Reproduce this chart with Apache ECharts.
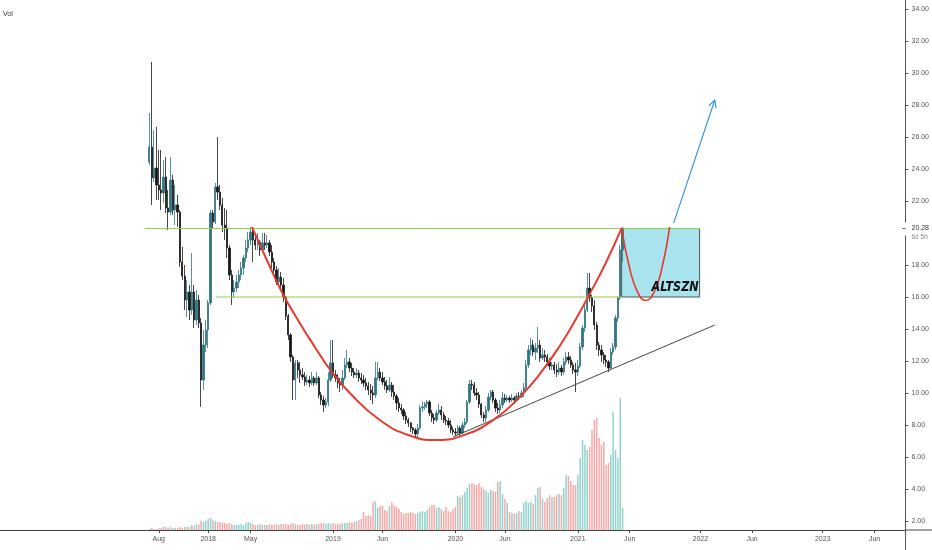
<!DOCTYPE html>
<html><head><meta charset="utf-8">
<script src="https://cdn.jsdelivr.net/npm/echarts@6/dist/echarts.min.js"></script>
<style>html,body{margin:0;padding:0;background:#fff}#c{width:932px;height:550px}</style>
</head><body><div id="c"></div>
<script>
// ---------- data (weekly candles) ----------
const firstWeek = '2017-07-10';
const openP = [24.44,
25.38,23.44,24.06,23.00,22.69,22.50,23.50,21.56,21.31,23.31,
21.44,21.75,21.31,18.19,17.31,15.81,16.31,15.19,16.31,14.56,
15.81,14.38,10.81,13.00,13.94,15.63,21.25,20.69,22.88,22.56,
21.75,20.50,20.31,19.06,17.38,16.31,16.56,16.94,17.38,17.81,
18.44,19.06,19.56,20.06,19.56,19.25,19.44,18.94,19.38,19.25,
19.38,18.81,18.19,17.69,16.94,17.25,16.75,16.00,14.81,13.63,
12.25,10.81,11.88,11.44,11.13,11.00,10.69,10.81,10.63,10.94,
10.63,10.94,9.88,9.56,9.25,9.44,10.81,11.88,11.13,10.94,
10.63,10.50,10.94,11.75,11.94,11.56,11.31,11.13,11.25,10.94,
10.81,10.63,10.44,10.19,10.00,9.88,10.94,11.31,10.94,10.69,
10.44,10.19,10.50,10.06,9.81,9.38,9.06,8.94,8.56,8.31,
8.13,7.81,7.69,7.44,7.81,9.06,9.13,9.31,9.44,8.75,
8.44,8.31,8.75,8.94,8.63,8.31,8.25,8.00,7.69,7.56,
7.50,7.81,7.50,8.00,8.19,9.44,10.56,10.50,10.00,9.88,
9.31,8.63,8.44,8.94,9.75,10.06,9.56,9.06,8.94,9.25,
9.69,9.56,9.69,9.56,9.69,9.56,9.81,9.75,10.00,10.31,
11.75,12.69,13.00,12.56,12.81,13.00,12.19,12.38,12.25,11.94,
11.69,11.75,11.44,11.31,11.56,11.31,11.94,12.25,12.06,11.75,
11.44,11.31,11.69,12.88,14.06,15.19,16.56,15.94,15.44,14.25,
13.00,12.69,12.38,12.06,11.94,11.56,12.56,12.88,14.69,15.94,
18.94];
const closeP = [
25.38,23.44,24.06,23.00,22.69,22.50,23.50,21.56,21.31,23.31,
21.44,21.75,21.31,18.19,17.31,15.81,16.31,15.19,16.31,14.56,
15.81,14.38,10.81,13.00,13.94,15.63,21.25,20.69,22.88,22.56,
21.75,20.50,20.31,19.06,17.38,16.31,16.56,16.94,17.38,17.81,
18.44,19.06,19.56,20.06,19.56,19.25,19.44,18.94,19.38,19.25,
19.38,18.81,18.19,17.69,16.94,17.25,16.75,16.00,14.81,13.63,
12.25,10.81,11.88,11.44,11.13,11.00,10.69,10.81,10.63,10.94,
10.63,10.94,9.88,9.56,9.25,9.44,10.81,11.88,11.13,10.94,
10.63,10.50,10.94,11.75,11.94,11.56,11.31,11.13,11.25,10.94,
10.81,10.63,10.44,10.19,10.00,9.88,10.94,11.31,10.94,10.69,
10.44,10.19,10.50,10.06,9.81,9.38,9.06,8.94,8.56,8.31,
8.13,7.81,7.69,7.44,7.81,9.06,9.13,9.31,9.44,8.75,
8.44,8.31,8.75,8.94,8.63,8.31,8.25,8.00,7.69,7.56,
7.50,7.81,7.50,8.00,8.19,9.44,10.56,10.50,10.00,9.88,
9.31,8.63,8.44,8.94,9.75,10.06,9.56,9.06,8.94,9.25,
9.69,9.56,9.69,9.56,9.69,9.56,9.81,9.75,10.00,10.31,
11.75,12.69,13.00,12.56,12.81,13.00,12.19,12.38,12.25,11.94,
11.69,11.75,11.44,11.31,11.56,11.31,11.94,12.25,12.06,11.75,
11.44,11.31,11.69,12.88,14.06,15.19,16.56,15.94,15.44,14.25,
13.00,12.69,12.38,12.06,11.94,11.56,12.56,12.88,14.69,15.94,
18.94,20.31];
const highP = [
27.50,30.69,26.44,26.63,25.19,25.19,24.56,24.75,22.69,24.75,
23.63,23.00,22.38,21.44,19.13,18.00,17.06,16.75,18.75,16.75,
16.44,16.13,14.69,13.94,14.56,15.81,21.44,21.44,23.13,26.00,
23.00,22.19,21.56,21.44,19.25,17.69,17.06,17.38,17.69,18.19,
18.63,19.56,20.06,20.38,20.31,19.88,20.00,19.56,20.00,20.00,
19.88,19.56,19.25,18.44,17.94,17.81,17.56,17.19,16.06,14.94,
13.75,12.38,12.06,12.06,11.94,11.56,11.31,11.13,11.06,11.31,
11.06,11.31,11.06,10.06,9.81,9.69,11.31,13.31,13.31,11.44,
11.19,10.94,11.44,12.19,12.69,12.19,11.88,11.56,11.56,11.44,
11.25,11.13,10.94,10.69,10.56,10.44,11.94,11.94,11.56,11.31,
11.00,10.81,11.00,10.69,10.50,9.94,9.69,9.31,9.06,8.81,
8.44,8.19,7.88,7.81,8.06,9.25,9.44,9.44,9.56,9.56,
8.94,8.69,8.94,9.31,9.19,8.81,8.56,8.44,8.31,7.88,
7.81,8.00,7.94,8.19,8.44,9.56,10.81,10.81,10.69,10.31,
10.06,9.38,8.81,9.19,10.00,10.19,10.19,9.69,9.38,9.56,
10.06,9.94,9.88,9.81,9.94,9.81,10.00,10.06,10.19,10.63,
12.06,13.00,13.44,13.31,13.13,14.13,13.31,12.81,12.69,12.44,
12.19,11.94,11.94,11.81,11.94,11.75,12.19,12.56,12.56,12.31,
11.94,11.88,12.06,13.13,14.25,15.50,17.50,17.50,16.13,15.81,
14.44,13.19,13.00,12.56,12.38,12.06,12.81,13.13,14.88,16.06,
19.25,20.38];
const lowP = [
24.25,21.75,23.19,22.06,22.06,21.44,21.88,21.25,20.19,21.13,
21.13,20.50,20.38,17.88,17.06,15.19,14.75,14.56,14.88,14.06,
14.25,14.06,9.13,10.19,12.56,12.81,15.50,20.31,20.56,22.06,
21.44,20.06,19.56,18.44,17.06,15.50,15.94,16.31,16.56,17.06,
17.38,18.19,18.81,19.25,18.19,18.94,18.94,18.56,18.81,18.94,
19.06,18.56,17.81,17.38,16.75,16.81,16.44,15.69,14.56,13.31,
11.94,9.56,9.56,10.94,10.63,10.81,10.44,10.50,10.38,10.50,
10.44,10.50,9.69,9.25,8.81,9.06,9.19,10.69,10.94,10.69,
10.31,10.06,10.19,10.81,11.56,11.31,11.06,10.94,10.94,10.69,
10.56,10.38,10.19,9.88,9.56,9.31,9.69,10.81,10.75,10.50,
10.19,10.00,10.06,9.75,9.56,8.94,8.81,8.69,8.31,8.06,
7.88,7.56,7.44,7.19,7.25,7.69,8.81,8.94,9.06,8.56,
8.19,8.06,8.19,8.63,8.31,8.13,8.00,7.81,7.50,7.38,
7.31,7.38,7.25,7.38,7.81,8.06,9.31,10.19,9.81,9.56,
9.06,8.44,8.19,8.19,8.81,9.56,9.38,8.81,8.69,8.75,
9.06,9.38,9.44,9.38,9.44,9.31,9.44,9.56,9.69,9.75,
10.19,11.56,12.38,12.31,12.06,12.50,11.94,12.06,11.94,11.69,
11.44,11.44,11.19,11.00,11.13,11.06,11.13,11.75,11.81,11.56,
11.19,10.06,11.06,11.56,12.69,13.81,15.06,15.69,15.06,13.94,
12.69,12.31,11.94,11.81,11.63,11.31,11.44,12.38,12.69,14.44,
15.81,18.19];
const volume = [
0.1,0.2,0.1,0.1,0.2,0.2,0.3,0.3,0.2,0.3,
0.2,0.2,0.2,0.3,0.2,0.3,0.3,0.3,0.5,0.4,
0.6,0.5,0.9,0.8,0.9,1.1,1.2,1.0,0.9,0.8,
0.8,0.7,0.7,0.6,0.7,0.6,0.5,0.5,0.5,0.6,
0.5,0.7,0.8,0.7,0.6,0.5,0.5,0.6,0.5,0.5,
0.5,0.6,0.5,0.5,0.6,0.5,0.6,0.6,0.6,0.5,
0.6,0.7,0.6,0.5,0.5,0.6,0.5,0.6,0.5,0.6,
0.5,0.6,0.6,0.7,0.7,0.6,0.7,0.6,0.7,0.6,
0.6,0.6,0.7,0.7,0.7,0.8,0.7,0.8,0.9,1.0,
1.1,1.8,1.4,1.5,1.4,2.8,2.9,2.2,2.4,2.4,
2.0,1.9,2.4,2.8,2.4,2.3,2.1,1.8,1.6,1.7,
1.7,1.8,1.7,1.6,1.7,1.8,1.9,1.8,2.0,2.3,
2.5,2.5,2.2,2.3,2.1,1.9,2.3,1.9,1.8,2.1,
2.3,3.4,3.3,3.5,3.8,4.2,4.6,4.7,4.6,4.5,
4.7,4.3,4.1,3.9,3.7,4.0,3.9,3.8,4.8,4.9,
3.6,3.1,2.7,1.8,1.7,1.6,1.7,1.9,1.8,2.7,
2.9,2.7,2.8,2.6,3.5,4.2,4.3,3.1,2.8,3.2,
3.5,3.3,3.3,3.5,3.6,3.5,4.2,5.5,5.4,4.9,
4.5,4.5,5.5,7.2,9.0,8.5,8.0,8.3,10.0,11.0,
11.2,9.2,8.5,8.8,6.5,6.7,7.5,11.8,8.0,7.2,
13.2,2.2];

const xTickDates = ['2017-08-07','2018-01-01','2018-05-07','2019-01-07','2019-06-03','2020-01-06','2020-06-01','2021-01-04','2021-06-07','2022-01-03','2022-06-06','2023-01-02','2023-06-05'];
const xTickLabels = ['Aug','2018','May','2019','Jun','2020','Jun','2021','Jun','2022','Jun','2023','Jun'];
const yTicks = [2,4,6,8,10,12,14,16,18,20,22,24,26,28,30,32,34];
const xMin = '2016-04-22', xMax = '2023-09-05';
const yMin = 1.4375, yMax = 34.5625;
const volMax = 53;

const lastPrice = 20.28;
const lastSub = '6d 5h';
const resistance = 20.28, support = 16.00;
const resistanceSpan = ['2017-06-27', '2022-01-01'];
const supportSpan = ['2018-01-24', '2021-05-14'];
const boxSpan = ['2021-05-14', '2022-01-01'];
const boxText = 'ALTSZN';
const cupPoints = [
 ['2018-05-11',20.38],['2018-06-27',18.19],['2018-08-11',16.19],['2018-09-30',14.38],
 ['2018-11-14',12.88],['2018-12-28',11.50],['2019-02-26',10.00],['2019-05-26',8.31],
 ['2019-08-23',7.34],['2019-11-11',7.06],['2020-02-02',7.38],['2020-05-02',8.38],
 ['2020-07-15',9.75],['2020-09-13',11.19],['2020-11-11',12.94],['2020-12-31',14.69],
 ['2021-02-08',16.19],['2021-03-25',18.00],['2021-05-14',20.31]];
const handlePoints = [['2021-05-14',20.31],['2021-06-07',17.79],['2021-07-01',16.29],['2021-07-25',15.78],
 ['2021-08-18',16.29],['2021-09-11',17.81],['2021-10-04',20.38]];
const arrowPoints = [['2021-10-16',20.63],['2022-02-15',28.31]];
const trendPoints = [['2019-12-29',7.25],['2022-02-15',14.25]];

// ---------- build ----------
const ts = s => { const p = s.split('-').map(Number); return new Date(p[0], p[1]-1, p[2]).getTime(); };
const fw = firstWeek.split('-').map(Number);
const weeks = closeP.map((_, i) => new Date(fw[0], fw[1]-1, fw[2] + 7*i).getTime());
const candleData = weeks.map((t, i) => [t, openP[i], closeP[i], lowP[i], highP[i]]);
const volData = weeks.map((t, i) => ({value: [t, volume[i]],
  itemStyle: {color: closeP[i] >= openP[i] ? 'rgba(38,166,154,0.5)' : 'rgba(239,83,80,0.5)'}}));
const pts = arr => arr.map(p => [ts(p[0]), p[1]]);
const xTickTs = xTickDates.map(ts);
const FONT = 'Liberation Sans, Arial, sans-serif';
const GREEN = '#8fcf4f';

const chart = echarts.init(document.getElementById('c'));
const option = {
  animation: false,
  backgroundColor: '#ffffff',
  grid: {left: 0, right: 26, top: 0, bottom: 20},
  xAxis: {
    type: 'value', min: ts(xMin), max: ts(xMax), scale: true,
    axisLine: {show: true, onZero: false, lineStyle: {color: '#444', width: 1}},
    axisTick: {show: true, customValues: xTickTs, length: 3, lineStyle: {color: '#444'}},
    axisLabel: {show: true, customValues: xTickTs, margin: 6, fontFamily: FONT, fontSize: 7, color: '#555',
      formatter: v => { let best = 0, bd = Infinity; xTickTs.forEach((t, i) => { const d = Math.abs(t - v); if (d < bd) { bd = d; best = i; } }); return xTickLabels[best]; }},
    splitLine: {show: false}
  },
  yAxis: [{
    type: 'value', position: 'right', min: yMin, max: yMax,
    axisLine: {show: true, lineStyle: {color: '#555', width: 1}},
    axisTick: {show: true, customValues: yTicks, length: 3, lineStyle: {color: '#555'}},
    axisLabel: {customValues: yTicks, formatter: v => v.toFixed(2), margin: 6, fontFamily: FONT, fontSize: 7, color: '#555'},
    splitLine: {show: false}
  }, {
    type: 'value', min: 0, max: volMax, show: false
  }],
  series: [
    { // target box
      type: 'line', z: 1, silent: true, symbol: 'none', lineStyle: {opacity: 0},
      data: [[ts(boxSpan[0]), support], [ts(boxSpan[1]), resistance]],
      markArea: {silent: true, itemStyle: {color: '#a9e4ee', borderColor: '#4c5a46', borderWidth: 1},
        data: [[{coord: [ts(boxSpan[0]), support]}, {coord: [ts(boxSpan[1]), resistance]}]]}
    },
    { // volume
      type: 'bar', yAxisIndex: 1, z: 2, barWidth: 1.5, data: volData, silent: true
    },
    { // candles
      type: 'candlestick', z: 3, barWidth: 1.8, data: candleData, silent: true,
      itemStyle: {color: '#2f7384', color0: '#161616', borderColor: '#2f7384', borderColor0: '#161616', borderWidth: 0.8}
    },
    { type: 'line', z: 4, symbol: 'none', silent: true, lineStyle: {color: GREEN, width: 1},
      data: [[ts(resistanceSpan[0]), resistance], [ts(resistanceSpan[1]), resistance]] },
    { type: 'line', z: 4, symbol: 'none', silent: true, lineStyle: {color: GREEN, width: 1},
      data: [[ts(supportSpan[0]), support], [ts(supportSpan[1]), support]] },
    { type: 'line', z: 4, symbol: 'none', silent: true, lineStyle: {color: '#444', width: 1},
      data: pts(trendPoints) },
    { type: 'line', z: 5, symbol: 'none', silent: true, smooth: 0.5, lineStyle: {color: '#e53a2e', width: 2},
      data: pts(cupPoints) },
    { type: 'line', z: 5, symbol: 'none', silent: true, smooth: 0.5, lineStyle: {color: '#e53a2e', width: 1.6},
      data: pts(handlePoints) },
    { type: 'line', z: 5, symbol: 'none', silent: true, lineStyle: {color: '#2b8fe6', width: 1.1},
      data: pts(arrowPoints) }
  ]
};
chart.setOption(option);

// ---------- overlays positioned from the axes ----------
const toPx = p => chart.convertToPixel({xAxisIndex: 0, yAxisIndex: 0}, [ts(p[0]), p[1]]);
const a0 = toPx(arrowPoints[0]), a1 = toPx(arrowPoints[1]);
const dx = a1[0] - a0[0], dy = a1[1] - a0[1], len = Math.hypot(dx, dy);
const ux = dx / len, uy = dy / len, L = 8, ang = 28 * Math.PI / 180;
const arm = s => [a1[0] - L * (ux * Math.cos(ang) - s * uy * Math.sin(ang)), a1[1] - L * (uy * Math.cos(ang) + s * ux * Math.sin(ang))];
const py = chart.convertToPixel({yAxisIndex: 0}, lastPrice);
const axX = chart.convertToPixel({xAxisIndex: 0}, ts(xMax));
const axY = chart.convertToPixel({yAxisIndex: 0}, yMin);
const bR = toPx([boxSpan[1], support]);

chart.setOption({graphic: [
  {type: 'polyline', silent: true, z: 10, shape: {points: [arm(1), a1, arm(-1)]}, style: {stroke: '#2b8fe6', lineWidth: 1.1, fill: null}},
  {type: 'text', silent: true, z: 10, x: bR[0] - 1, y: bR[1] - 3, scaleX: 0.8, style: {text: boxText, fontFamily: 'DejaVu Sans, sans-serif', fontWeight: 'bold', fontStyle: 'italic', fontSize: 14, fill: '#111', align: 'right', verticalAlign: 'bottom'}},
  {type: 'line', silent: true, z: 10, shape: {x1: axX, y1: axY, x2: 932, y2: axY}, style: {stroke: '#444', lineWidth: 1}},
  {type: 'line', silent: true, z: 10, shape: {x1: axX, y1: axY, x2: axX, y2: 550}, style: {stroke: '#555', lineWidth: 1}},
  {type: 'rect', silent: true, z: 11, shape: {x: axX - 1, y: py - 6, width: 932 - axX + 1, height: 13}, style: {fill: '#fff'}},
  {type: 'line', silent: true, z: 12, shape: {x1: axX - 3, y1: py, x2: axX, y2: py}, style: {stroke: '#555', lineWidth: 1}},
  {type: 'text', silent: true, z: 12, x: axX + 6, y: py, style: {text: lastPrice.toFixed(2), fontFamily: FONT, fontSize: 7, fill: '#333', verticalAlign: 'middle'}},
  {type: 'text', silent: true, z: 12, x: axX + 6, y: py + 9, style: {text: lastSub, fontFamily: FONT, fontSize: 6.5, fill: '#8a8a8a', verticalAlign: 'middle'}},
  {type: 'text', silent: true, z: 12, x: 3, y: 14, style: {text: 'Vol', fontFamily: FONT, fontSize: 7, fill: '#333', verticalAlign: 'middle'}}
]});
</script>
</body></html>
